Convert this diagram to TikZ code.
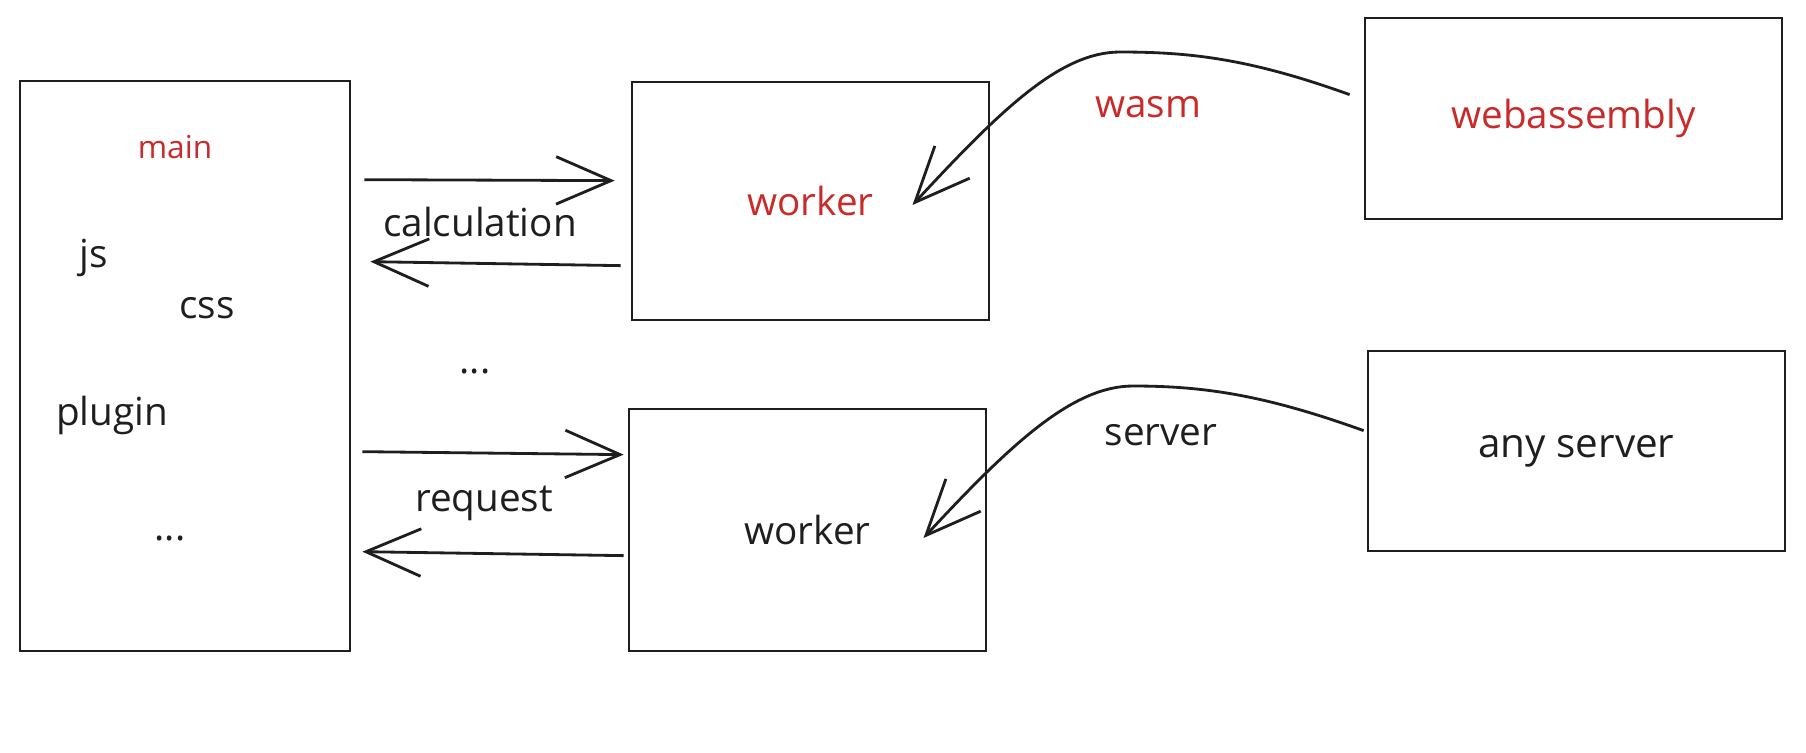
\documentclass[tikz,border=0pt]{standalone}
\usepackage{fontspec}
\setmainfont{Open Sans}
\usepackage{xcolor}
\usetikzlibrary{arrows.meta, positioning, calc}
\definecolor{ink}{HTML}{1E1E1E}
\definecolor{redink}{HTML}{C92A2A}
\tikzstyle{panel} = [rectangle, draw=ink, line width=1.6pt, inner sep=0pt, text=ink, font=\fontsize{22}{26}\selectfont]
\tikzstyle{lbl} = [inner sep=1pt, text=ink, font=\fontsize{22}{26}\selectfont]
\tikzstyle{redlbl} = [lbl, text=redink]
\tikzstyle{arrow} = [draw=ink, line width=1.6pt, -{Straight Barb[length=1.1cm, width=0.95cm, line width=1.6pt]}]

\begin{document}
\begin{tikzpicture}[x=0.02cm, y=-0.02cm]
        \useasboundingbox (0,0) rectangle (1806,752);
        \node (main) [panel, minimum width=6.6cm, minimum height=11.4cm] at (185,366) {};
        \node (worker1) [panel, minimum width=7.14cm, minimum height=4.76cm, text=redink] at (810.5,201) {worker};
        \node (wasmbox) [panel, minimum width=8.34cm, minimum height=4.02cm, text=redink] at (1573.5,118.5) {webassembly};
        \node (worker2) [panel, minimum width=7.14cm, minimum height=4.84cm] at (807.5,530) {worker};
        \node (anyserver) [panel, minimum width=8.34cm, minimum height=4cm, font=\fontsize{23}{27}\selectfont] at (1576.5,451) {any server};

        \node (mainlbl) [redlbl, font=\fontsize{18}{21}\selectfont] at (175,147) {main};
        \node (js) [lbl] at (94,258) {js};
        \node (css) [lbl] at (207,308) {css};
        \node (plugin) [lbl] at (112,415) {plugin};
        \node (moremain) [lbl] at (170,538) {...};
        \node (calc) [lbl] at (480,222) {calculation};
        \node (moreworkers) [lbl] at (475,371) {...};
        \node (req) [lbl] at (484,503) {request};
        \node (wasm) [redlbl] at (1148,107) {wasm};
        \node (server) [lbl] at (1161,435) {server};

        \coordinate (wasmtop) at (1120,52);
        \coordinate (servertop) at (1133,386);

        \draw [arrow] ($(main.north east)+(13,100)$) -- ($(worker1.north west)+(-16,100)$);
        \draw [arrow] ($(worker1.north west)+(-10,185)$) -- ($(main.north east)+(19,182)$);
        \draw [arrow] ($(main.north east)+(11,372)$) -- ($(worker2.north west)+(-4,47)$);
        \draw [arrow] ($(worker2.north west)+(-4,148)$) -- ($(main.north east)+(11,472)$);

        \draw [arrow] ($(wasmbox.north west)+(-14,78)$) .. controls +(-100,-36) and +(70,0) .. (wasmtop)
            .. controls +(-60,0) and +(88,-95) .. ($(worker1.center)+(102,4)$);
        \draw [arrow] ($(anyserver.north west)+(-3,81)$) .. controls +(-100,-36) and +(70,0) .. (servertop)
            .. controls +(-60,0) and +(88,-95) .. ($(worker2.center)+(116,8)$);
\end{tikzpicture}
\end{document}
